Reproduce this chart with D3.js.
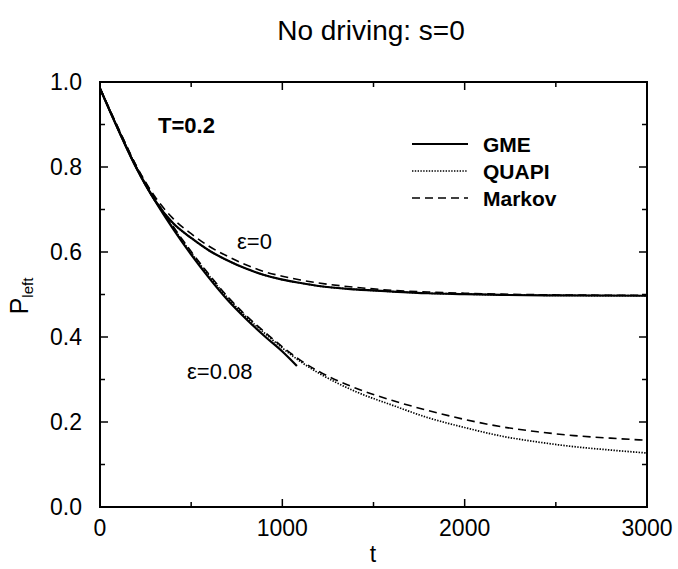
<!DOCTYPE html>
<html>
<head>
<meta charset="utf-8">
<script src="https://cdn.jsdelivr.net/npm/d3@7/dist/d3.min.js"></script>
<style>
  html, body { margin: 0; padding: 0; background: #fff; }
  svg { display: block; }
  text { font-family: "Liberation Sans", Arial, Helvetica, sans-serif; fill: #000; }
</style>
</head>
<body>
<svg id="chart" width="678" height="569"></svg>
<script>
// ---- data ----
const xTicks = [0, 1000, 2000, 3000];
const yTicks = [0.0, 0.2, 0.4, 0.6, 0.8, 1.0];
const yTickLabels = ["0.0", "0.2", "0.4", "0.6", "0.8", "1.0"];

// epsilon = 0
const tEps0 = [0, 100, 200, 300, 400, 500, 600, 700, 800, 900, 1000, 1100, 1200, 1400, 1600, 1800, 2000, 2200, 2500, 3000];
const gmeEps0 = [0.985, 0.888, 0.797, 0.722, 0.668, 0.633, 0.603, 0.580, 0.561, 0.546, 0.535, 0.527, 0.520, 0.512, 0.507, 0.503, 0.501, 0.499, 0.498, 0.497];
const quapiEps0 = [0.985, 0.888, 0.797, 0.722, 0.668, 0.633, 0.603, 0.580, 0.561, 0.546, 0.535, 0.527, 0.520, 0.512, 0.507, 0.503, 0.501, 0.499, 0.498, 0.497];
const markovEps0 = [0.985, 0.892, 0.802, 0.731, 0.679, 0.643, 0.613, 0.590, 0.570, 0.554, 0.543, 0.534, 0.527, 0.517, 0.510, 0.506, 0.503, 0.501, 0.499, 0.498];

// epsilon = 0.08
const tEps8 = [0, 100, 200, 300, 400, 500, 600, 700, 800, 900, 1000, 1100, 1200, 1400, 1600, 1800, 2000, 2200, 2400, 2600, 2800, 3000];
const quapiEps8 = [0.985, 0.889, 0.799, 0.724, 0.658, 0.598, 0.543, 0.492, 0.448, 0.410, 0.374, 0.342, 0.315, 0.272, 0.240, 0.210, 0.187, 0.167, 0.153, 0.142, 0.134, 0.127];
const markovEps8 = [0.985, 0.891, 0.802, 0.727, 0.661, 0.601, 0.546, 0.495, 0.451, 0.413, 0.377, 0.345, 0.319, 0.280, 0.251, 0.227, 0.206, 0.189, 0.177, 0.168, 0.162, 0.157];
const tGmeEps8 = [0, 100, 200, 300, 400, 500, 600, 700, 800, 900, 1000, 1080];
const gmeEps8 = [0.985, 0.888, 0.798, 0.722, 0.655, 0.594, 0.538, 0.487, 0.443, 0.403, 0.366, 0.332];

const legendNames = ["GME", "QUAPI", "Markov"];
const legendKinds = ["solid", "dot", "dash"];

// ---- layout ----
const svg = d3.select("#chart");
const plotL = 100, plotR = 647, plotT = 82, plotB = 507;

const x = d3.scaleLinear().domain([0, 3000]).range([plotL, plotR]);
const y = d3.scaleLinear().domain([0, 1]).range([plotB, plotT]);

const styles = {
  solid: { width: 2.2, dash: null },
  dot: { width: 1.7, dash: "1.4,1.4" },
  dash: { width: 1.6, dash: "8,5" }
};

function drawSeries(ts, vals, kind) {
  const pts = ts.map((t, i) => [t, vals[i]]);
  const line = d3.line().x(d => x(d[0])).y(d => y(d[1])).curve(d3.curveMonotoneX);
  const st = styles[kind];
  svg.append("path")
    .attr("d", line(pts))
    .attr("fill", "none")
    .attr("stroke", "#000")
    .attr("stroke-width", st.width)
    .attr("stroke-dasharray", st.dash);
}

drawSeries(tEps0, gmeEps0, "solid");
drawSeries(tEps0, quapiEps0, "dot");
drawSeries(tEps0, markovEps0, "dash");
drawSeries(tGmeEps8, gmeEps8, "solid");
drawSeries(tEps8, quapiEps8, "dot");
drawSeries(tEps8, markovEps8, "dash");

// ---- ticks: inward, mirrored on all four sides ----
const majorLen = 8, minorLen = 5;
const xMinor = d3.range(0, 3001, 500);
const yMinor = d3.range(0, 11).map(i => i / 10);

const tickG = svg.append("g").attr("stroke", "#000").attr("stroke-width", 1.5);
xMinor.forEach(t => {
  const len = xTicks.includes(t) ? majorLen : minorLen;
  tickG.append("line").attr("x1", x(t)).attr("x2", x(t)).attr("y1", plotB).attr("y2", plotB - len);
  tickG.append("line").attr("x1", x(t)).attr("x2", x(t)).attr("y1", plotT).attr("y2", plotT + len);
});
yMinor.forEach((v, i) => {
  const len = i % 2 === 0 ? majorLen : minorLen;
  tickG.append("line").attr("x1", plotL).attr("x2", plotL + len).attr("y1", y(v)).attr("y2", y(v));
  tickG.append("line").attr("x1", plotR).attr("x2", plotR - len).attr("y1", y(v)).attr("y2", y(v));
});

// frame
svg.append("rect")
  .attr("x", plotL).attr("y", plotT)
  .attr("width", plotR - plotL).attr("height", plotB - plotT)
  .attr("fill", "none").attr("stroke", "#000").attr("stroke-width", 2);

// tick labels
svg.append("g").selectAll("text").data(xTicks).join("text")
  .attr("x", d => x(d)).attr("y", 536)
  .attr("text-anchor", "middle")
  .attr("font-size", 23)
  .text(d => d);

svg.append("g").selectAll("text").data(yTicks).join("text")
  .attr("x", 82).attr("y", d => y(d) + 8)
  .attr("text-anchor", "end")
  .attr("font-size", 23)
  .text((d, i) => yTickLabels[i]);

// axis titles
svg.append("text").attr("x", 373).attr("y", 562)
  .attr("text-anchor", "middle").attr("font-size", 23).text("t");

const yLab = svg.append("text")
  .attr("transform", "translate(28,296) rotate(-90)")
  .attr("text-anchor", "middle")
  .attr("font-size", 25);
yLab.append("tspan").text("P");
yLab.append("tspan").attr("font-size", 15).attr("dy", 5).text("left");

// title
svg.append("text").attr("x", 371).attr("y", 40)
  .attr("text-anchor", "middle").attr("font-size", 28).text("No driving: s=0");

// annotations
svg.append("text").attr("x", 158).attr("y", 133)
  .attr("font-size", 22).attr("font-weight", "bold").text("T=0.2");
svg.append("text").attr("x", 237).attr("y", 249)
  .attr("font-size", 22).text("ε=0");
svg.append("text").attr("x", 187).attr("y", 379)
  .attr("font-size", 22).text("ε=0.08");

// legend
const legY = [144, 171, 198];
legendNames.forEach((name, i) => {
  const st = styles[legendKinds[i]];
  svg.append("line")
    .attr("x1", 412).attr("x2", 468)
    .attr("y1", legY[i]).attr("y2", legY[i])
    .attr("stroke", "#000")
    .attr("stroke-width", st.width)
    .attr("stroke-dasharray", st.dash);
  svg.append("text")
    .attr("x", 483).attr("y", legY[i] + 8)
    .attr("font-size", 21).attr("font-weight", "bold")
    .text(name);
});
</script>
</body>
</html>
